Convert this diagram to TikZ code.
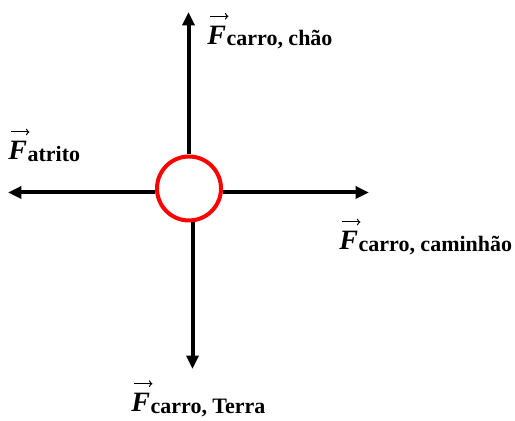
\documentclass[tikz,border=0pt]{standalone}
\usepackage{fontspec}
\setmainfont{Liberation Serif}
\usepackage{tikz}
\usetikzlibrary{arrows.meta, positioning}
\definecolor{myred}{RGB}{255,0,0}
\definecolor{mydark}{RGB}{0,0,0}
\newcommand{\forca}[1]{%
  {\fontsize{21}{21}\selectfont\bfseries\itshape F}\kern0.5pt%
  \raisebox{-1pt}{\fontsize{16.5}{16.5}\selectfont\bfseries #1}}
\tikzset{
  corpo/.style={circle, draw=myred, fill=white, minimum size=48pt,
    inner sep=0pt, line width=3pt},
  vforca/.style={-{Triangle[length=10pt, width=9pt]}, line width=3pt, color=mydark},
  seta/.style={-{To[length=2.6pt, width=5pt]}, line width=0.75pt, color=mydark},
  rotulo/.style={anchor=base west, inner sep=0pt}
}

\begin{document}
\begin{tikzpicture}[x=0.75pt, y=0.75pt]
  \useasboundingbox (0,0) rectangle (515,421);

  % Body
  \node[corpo] (carro) at (189,232.5) {};

  % Arrow tips
  \coordinate (cima) at (188.5,409);
  \coordinate (baixo) at (192.5,52);
  \coordinate (esq) at (8,228.5);
  \coordinate (dir) at (369,228.5);

  % Forces
  \draw[vforca] (carro.north -| cima) -- (cima);
  \draw[vforca] (carro.south -| baixo) -- (baixo);
  \draw[vforca] (carro.west |- esq) -- (esq);
  \draw[vforca] (carro.east |- dir) -- (dir);

  % Labels
  \node[rotulo] (fchao) at (207,376.7) {\forca{carro, chão}};
  \node[rotulo] (fatrito) at (8,261) {\forca{atrito}};
  \node[rotulo] (fcaminhao) at (339,171) {\forca{carro, caminhão}};
  \node[rotulo] (fterra) at (131,9.3) {\forca{carro, Terra}};

  % Vector arrows over F
  \foreach \r in {fchao, fatrito, fcaminhao, fterra}
    \draw[seta] ([xshift=2.6pt, yshift=21pt]\r.base west) -- ++(13.5pt,0);
\end{tikzpicture}
\end{document}
